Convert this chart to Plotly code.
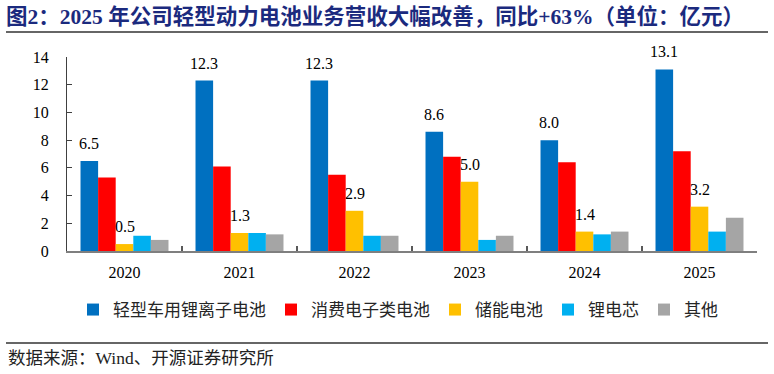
import plotly.graph_objects as go

years = ["2020", "2021", "2022", "2023", "2024", "2025"]
series_names = ["轻型车用锂离子电池", "消费电子类电池", "储能电池", "锂电芯", "其他"]
light_ev = [6.5, 12.3, 12.3, 8.6, 8.0, 13.1]
consumer = [5.3, 6.1, 5.5, 6.8, 6.4, 7.2]
storage = [0.5, 1.3, 2.9, 5.0, 1.4, 3.2]
cells = [1.1, 1.3, 1.1, 0.8, 1.2, 1.4]
others = [0.8, 1.2, 1.1, 1.1, 1.4, 2.4]
y_ticks = [0, 2, 4, 6, 8, 10, 12, 14]

title_text = "图2：2025 年公司轻型动力电池业务营收大幅改善，同比+63%（单位：亿元）"
source_text = "数据来源：Wind、开源证券研究所"

colors = ["#0070C0", "#FF0000", "#FFC000", "#00B0F0", "#A5A5A5"]
values = [light_ev, consumer, storage, cells, others]
labelled = [True, False, True, False, False]

FONT = "Liberation Serif, Noto Sans CJK SC, serif"

W, H = 774, 374
ML, MR, MT, MB = 67, 17, 57, 123
PW, PH = W - ML - MR, H - MT - MB
BARGAP = 0.235
N_SERIES = len(series_names)
BAR_PX = PW / len(years) * (1 - BARGAP) / N_SERIES


def px_x(x):
    return (x - ML) / PW


def px_y(y):
    return (H - MB - y) / PH


fig = go.Figure()
annotations = []
for i, (name, vals, col, lab) in enumerate(zip(series_names, values, colors, labelled)):
    fig.add_trace(go.Bar(
        x=years, y=vals, name=name,
        marker=dict(color=col, line=dict(width=0)),
    ))
    if lab:
        shift = (i - (N_SERIES - 1) / 2) * BAR_PX
        for k, v in enumerate(vals):
            # category axes take the category's serial number for annotations
            annotations.append(dict(
                x=k, y=v, xref="x", yref="y",
                text=f"{v:.1f}", showarrow=False,
                xanchor="center", yanchor="bottom",
                xshift=shift, yshift=7,
                font=dict(family=FONT, size=16, color="#000000"),
            ))

annotations.append(dict(
    text=source_text, xref="paper", yref="paper",
    x=px_x(6), y=px_y(358), xanchor="left", yanchor="middle",
    showarrow=False,
    font=dict(family=FONT, size=17.5, color="#222222"),
))

fig.update_layout(
    width=W, height=H,
    margin=dict(l=ML, r=MR, t=MT, b=MB, pad=0),
    paper_bgcolor="white", plot_bgcolor="white",
    barmode="group", bargap=BARGAP, bargroupgap=0,
    font=dict(family=FONT, size=16, color="#000000"),
    title=dict(
        text="<b>" + title_text + "</b>",
        font=dict(family=FONT, size=21.5, color="#1B2A7E"),
        xref="container", yref="container",
        x=6 / W, xanchor="left",
        y=1 - 16 / H, yanchor="middle",
    ),
    showlegend=True,
    legend=dict(
        orientation="h",
        xref="container", yref="container",
        x=73 / W, xanchor="left",
        y=1 - 310 / H, yanchor="middle",
        font=dict(family=FONT, size=17, color="#262626"),
        itemclick=False, itemdoubleclick=False,
        traceorder="normal",
    ),
    xaxis=dict(
        type="category", automargin=False,
        range=[-0.5, len(years) - 0.5],
        showline=True, linecolor="#7F7F7F", linewidth=1.5,
        ticks="inside", tickson="boundaries", ticklen=5,
        tickcolor="#595959", tickwidth=1.5,
        showgrid=False, zeroline=False, tickangle=0,
        tickfont=dict(family=FONT, size=16, color="#000000"),
        ticklabelstandoff=6,
    ),
    yaxis=dict(
        range=[0, 14], tickvals=y_ticks, automargin=False,
        showline=True, linecolor="#404040", linewidth=1,
        ticks="inside", ticklen=5, tickcolor="#404040", tickwidth=1,
        showgrid=False, zeroline=False,
        tickfont=dict(family=FONT, size=16, color="#000000"),
        ticklabelstandoff=14,
    ),
    shapes=[
        dict(type="line", xref="paper", yref="paper",
             x0=px_x(6), x1=px_x(768), y0=px_y(32), y1=px_y(32),
             line=dict(color="#333333", width=1.5)),
        dict(type="line", xref="paper", yref="paper",
             x0=px_x(6), x1=px_x(768), y0=px_y(343), y1=px_y(343),
             line=dict(color="#333333", width=1.5)),
    ],
    annotations=annotations,
)

fig.write_html("out.html")
